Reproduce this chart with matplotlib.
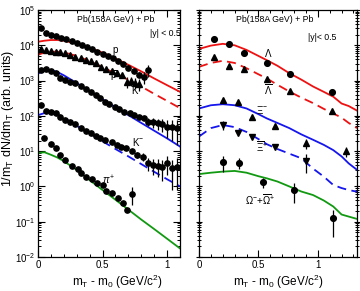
import matplotlib
matplotlib.use('Agg')
import matplotlib.pyplot as plt
import numpy as np
from matplotlib.ticker import LogLocator, NullFormatter, MultipleLocator

plt.rcParams['font.family'] = ['Liberation Sans', 'DejaVu Sans']
plt.rcParams['mathtext.fontset'] = 'custom'
plt.rcParams['mathtext.rm'] = 'Liberation Sans'
plt.rcParams['mathtext.it'] = 'Liberation Sans:italic'

RED = '#ee1111'
BLUE = '#1515ee'
GREEN = '#119911'

# ---------------- left panel: p, pbar, K+, K-, pi+ ----------------
p_x = [0.02, 0.06, 0.10, 0.14, 0.18, 0.22, 0.26, 0.30, 0.34, 0.38, 0.42,
       0.46, 0.50, 0.54, 0.58, 0.62, 0.66, 0.70, 0.74, 0.78, 0.82, 0.85]
p_y = [30000, 21900, 19500, 17800, 16200, 14800, 12900, 11500, 10000, 8900,
       7800, 6600, 5750, 5000, 4260, 3550, 2880, 2290, 1860, 1480, 1260, 2000]
p_err = [0, 0, 0, 0, 0, 0, 0, 0, 0, 0, 0, 0, 0, 0, 0, 0, 0, 0, 0, 250, 450, 750]

pbar_x = [0.02, 0.06, 0.10, 0.14, 0.17, 0.21, 0.25, 0.29, 0.33, 0.37, 0.41,
          0.45, 0.49, 0.53, 0.57, 0.61, 0.65, 0.69, 0.72, 0.75, 0.78]
pbar_y = [7800, 7400, 7100, 6600, 6300, 5900, 5400, 4800, 4300, 3900, 3500,
          3100, 2500, 2150, 1850, 1650, 1480, 930, 1000, 870, 800]
pbar_err = [0, 0, 0, 0, 0, 0, 0, 0, 0, 0, 0, 0, 0, 0, 0, 0, 0, 300, 300, 300, 300]

kp_x = [0.02, 0.06, 0.10, 0.14, 0.17, 0.21, 0.25, 0.29, 0.33, 0.37, 0.41,
        0.45, 0.48, 0.52, 0.55, 0.60, 0.63, 0.67, 0.71, 0.74, 0.78, 0.82,
        0.85, 0.89, 0.93, 0.96, 1.00, 1.04, 1.08]
kp_y = [2000, 2090, 1900, 1620, 1170, 1050, 930, 830, 680, 560, 480,
        400, 316, 250, 214, 182, 158, 132, 117, 107, 95, 85,
        69, 65, 62, 58, 49, 47, 45]
kp_err = [0, 0, 0, 0, 0, 0, 0, 0, 0, 0, 0, 0, 0, 0, 0, 0, 0, 0, 0, 0, 0, 0,
          18, 20, 22, 24, 26, 28, 30]

km_x = [0.02, 0.06, 0.10, 0.14, 0.17, 0.21, 0.25, 0.29, 0.33, 0.37, 0.41,
        0.45, 0.48, 0.52, 0.57, 0.61, 0.64, 0.68, 0.73, 0.77, 0.81, 0.85,
        0.89, 0.93, 0.96, 1.00, 1.04, 1.08]
km_y = [204, 141, 126, 117, 95, 76, 69, 57, 45, 38, 33,
        27.5, 23.4, 20.9, 18.6, 15.1, 13.5, 12.0, 9.8, 7.8, 6.9, 4.6,
        4.1, 3.9, 3.6, 4.6, 3.3, 3.6]
km_err = [0, 0, 0, 0, 0, 0, 0, 0, 0, 0, 0, 0, 0, 0, 0, 0, 0, 0, 0, 1.5, 1.8,
          1.8, 2.0, 2.0, 2.2, 2.5, 2.5, 2.8]

pi_x = [0.05, 0.10, 0.14, 0.17, 0.21, 0.26, 0.31, 0.33, 0.37, 0.42, 0.46,
        0.50, 0.53, 0.57, 0.62, 0.66, 0.69, 0.73]
pi_y = [24, 15.8, 12.0, 7.8, 5.6, 3.8, 3.1, 2.35, 1.82, 1.58, 1.29,
        1.10, 0.76, 0.65, 0.47, 0.35, 0.21, 0.62]
pi_err = [0, 0, 0, 0, 0, 0, 0, 0, 0, 0, 0, 0, 0, 0, 0, 0, 0, 0.32]

# model curves (left)
cl_x = [0.0, 0.05, 0.1, 0.15, 0.2, 0.3, 0.4, 0.5, 0.6, 0.7, 0.8, 0.9, 1.0, 1.1]
p_fit = [12600, 13500, 14100, 14100, 13500, 11200, 8500, 6200, 4200, 2800,
         1820, 1150, 740, 480]
pbar_fit = [5400, 6200, 6600, 6600, 6300, 5000, 3550, 2400, 1580, 1050,
            680, 420, 265, 166]
kp_fit = [1580, 1900, 2000, 1750, 1410, 850, 500, 295, 174, 105,
          63, 38, 23, 13.5]
km_fit = [105, 120, 126, 110, 89, 52, 32, 19, 11.5, 7.1,
          4.3, 2.6, 1.6, 1.0]
pi_fit = [8.9, 9.3, 7.9, 6.6, 5.2, 2.95, 1.51, 0.79, 0.42, 0.22,
          0.115, 0.062, 0.033, 0.0175]

# ---------------- right panel: Lambda, Xi, Omega ----------------
lam_x = [0.13, 0.25, 0.38, 0.57, 0.77, 1.12]
lam_y = [14800, 10700, 6200, 3240, 1550, 490]
alam_y = [4600, 2630, 2140, 1100, 510, 138]

xi_x = [0.20, 0.33, 0.45, 0.64, 0.90, 1.24]
xi_y = [282, 251, 95, 52, 16.6, 10.0]
xi_err = [0, 0, 0, 0, 5, 3]
axi_x = [0.20, 0.33, 0.45, 0.64, 0.90]
axi_y = [55, 32, 26, 13.5, 5.4]
axi_err = [15, 0, 0, 0, 3]

om_x = [0.20, 0.34, 0.54, 0.80, 1.13]
om_y = [5.0, 4.7, 1.3, 0.8, 0.126]
om_err = [2.4, 1.5, 0.4, 0.45, 0.09]

cr_x = [0.0, 0.1, 0.2, 0.3, 0.4, 0.5, 0.57, 0.66, 0.76, 0.86, 0.96, 1.05,
        1.13, 1.2, 1.26, 1.33]
lam_fit = [7900, 9800, 11000, 10000, 7400, 5000, 3800, 2630, 1620, 1070,
           680, 480, 350, 224, 190, 141]
alam_fit = [2450, 3160, 3630, 3160, 2240, 1510, 1150, 760, 490, 330,
            230, 158, 117, 89, 63, 45]
xi_fit = [162, 200, 214, 200, 162, 112, 85, 63, 45, 30,
          21, 15.1, 10.7, 7.1, 4.5, 2.95]
axi_fit = [26, 45, 55, 48, 35, 22, 15.8, 11.5, 8.5, 6.3,
           3.2, 1.9, 1.1, 0.9, 0.79, 0.71]
om_fit = [2.24, 2.45, 2.63, 2.75, 2.45, 1.95, 1.70, 1.38, 1.0, 0.72,
          0.57, 0.40, 0.27, 0.16, 0.14, 0.12]

fig = plt.figure(figsize=(3.6, 2.91), dpi=100)
axl = fig.add_axes([0.1056, 0.1168, 0.3944, 0.8488])
axr = fig.add_axes([0.5528, 0.1168, 0.4389, 0.8488])

ms = 3.8
ekw = dict(ls='none', ecolor='black', elinewidth=0.9, capsize=0, color='black')

# left
axl.plot(cl_x, p_fit, color=RED, lw=1.3)
axl.plot(cl_x, pbar_fit, color=RED, lw=1.3, dashes=(5, 3))
axl.plot(cl_x, kp_fit, color=BLUE, lw=1.3)
axl.plot(cl_x, km_fit, color=BLUE, lw=1.3, dashes=(5, 3))
axl.plot(cl_x, pi_fit, color=GREEN, lw=1.3)
axl.errorbar(p_x, p_y, yerr=p_err, marker='o', ms=ms, **ekw)
axl.errorbar(pbar_x, pbar_y, yerr=pbar_err, marker='^', ms=ms, **ekw)
axl.errorbar(kp_x, kp_y, yerr=kp_err, marker='o', ms=ms, **ekw)
axl.errorbar(km_x, km_y, yerr=km_err, marker='o', ms=ms, **ekw)
axl.errorbar(pi_x, pi_y, yerr=pi_err, marker='o', ms=ms, **ekw)
axl.set_xlim(0, 1.1)

# right
axr.plot(cr_x, lam_fit, color=RED, lw=1.3)
axr.plot(cr_x, alam_fit, color=RED, lw=1.3, dashes=(5, 3))
axr.plot(cr_x, xi_fit, color=BLUE, lw=1.3)
axr.plot(cr_x, axi_fit, color=BLUE, lw=1.3, dashes=(5, 3))
axr.plot(cr_x, om_fit, color=GREEN, lw=1.3)
axr.errorbar(lam_x, lam_y, marker='o', ms=ms + 0.3, **ekw)
axr.errorbar(lam_x, alam_y, marker='^', ms=ms + 0.3, **ekw)
axr.errorbar(xi_x, xi_y, yerr=xi_err, marker='^', ms=ms + 0.3, **ekw)
axr.errorbar(axi_x, axi_y, yerr=axi_err, marker='v', ms=ms + 0.3, **ekw)
axr.errorbar(om_x, om_y, yerr=om_err, marker='o', ms=ms + 0.3, **ekw)
axr.set_xlim(0, 1.33)

for ax in (axl, axr):
    ax.set_yscale('log')
    ax.set_ylim(1e-2, 1e5)
    ax.yaxis.set_major_locator(LogLocator(base=10, numticks=20))
    ax.yaxis.set_minor_locator(LogLocator(base=10, subs=np.arange(2, 10), numticks=20))
    ax.yaxis.set_minor_formatter(NullFormatter())
    ax.xaxis.set_major_locator(MultipleLocator(0.5))
    ax.xaxis.set_minor_locator(MultipleLocator(0.1))
    ax.tick_params(which='both', direction='in', top=True, right=True, labelsize=7, pad=2)
    ax.tick_params(which='major', length=5, width=0.8)
    ax.tick_params(which='minor', length=2.5, width=0.7)
    ax.set_xticks([0, 0.5, 1])
    ax.set_xticklabels(['0', '0.5', '1'])
    for s in ax.spines.values():
        s.set_linewidth(0.9)

axr.tick_params(axis='y', which='both', labelleft=False, left=True)
axr.tick_params(axis='y', which='both', direction='inout')

axl.set_ylabel(r'1/m$_{\rm T}$ dN/dm$_{\rm T}$ (arb. units)', fontsize=9)
axl.yaxis.set_label_coords(-0.155, 0.56)
axl.set_xlabel(r'm$_{\rm T}$ - m$_{\rm 0}$ (GeV/c$^{2}$)', fontsize=8.5)
axr.set_xlabel(r'm$_{\rm T}$ - m$_{\rm 0}$ (GeV/c$^{2}$)', fontsize=8.5)
axl.xaxis.set_label_coords(0.56, -0.062)
axr.xaxis.set_label_coords(0.5, -0.062)

# annotations
tk = dict(fontsize=6.3, ha='center', va='center')
axl.text(0.55, 0.96, 'Pb(158A GeV) + Pb', transform=axl.transAxes, **tk)
axl.text(0.79, 0.905, '|y| < 0.5', transform=axl.transAxes, fontsize=6.3, va='center')
axr.text(0.48, 0.96, 'Pb(158A GeV) + Pb', transform=axr.transAxes, **tk)
axr.text(0.69, 0.887, '|y|< 0.5', transform=axr.transAxes, fontsize=6.3, va='center')

lk = dict(fontsize=7, ha='center', va='center')
axl.text(0.54, 0.838, 'p', transform=axl.transAxes, **lk)
axl.text(0.53, 0.733, r'$\overline{\rm p}$', transform=axl.transAxes, **lk)
axl.text(0.695, 0.669, r'K$^{+}$', transform=axl.transAxes, **lk)
axl.text(0.706, 0.467, r'K$^{-}$', transform=axl.transAxes, **lk)
axl.text(0.495, 0.309, r'$\pi^{+}$', transform=axl.transAxes, **lk)

axr.text(0.437, 0.826, r'$\Lambda$', transform=axr.transAxes, **lk)
axr.text(0.437, 0.676, r'$\overline{\Lambda}$', transform=axr.transAxes, **lk)
axr.text(0.40, 0.595, r'$\Xi^{-}$', transform=axr.transAxes, **lk)
axr.text(0.397, 0.446, r'$\overline{\Xi}^{+}$', transform=axr.transAxes, **lk)
axr.text(0.386, 0.231, r'$\Omega^{-}$+$\overline{\Omega}^{+}$', transform=axr.transAxes, **lk)

fig.savefig('out.png', dpi=100)
